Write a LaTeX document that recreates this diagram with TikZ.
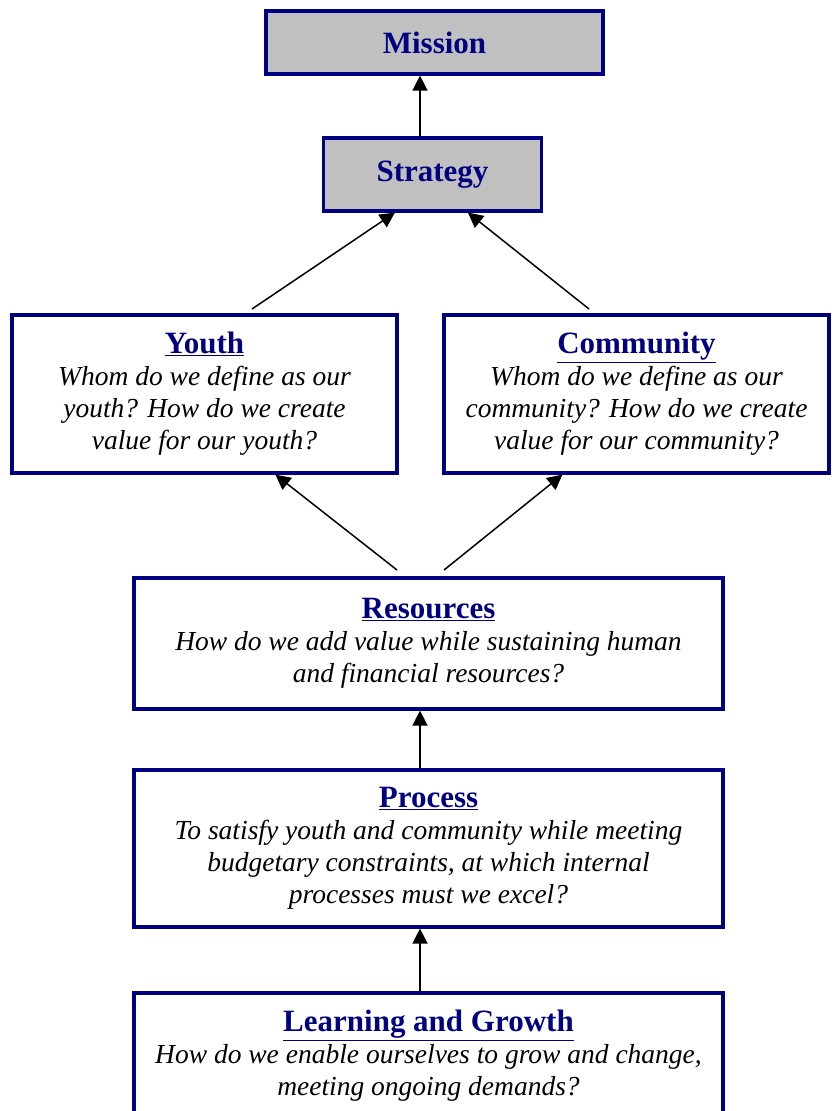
\documentclass[tikz,border=0pt]{standalone}
\usepackage{fontspec}
\setmainfont{Liberation Serif}
\usetikzlibrary{arrows.meta,calc}
\definecolor{navy}{HTML}{000080}
\definecolor{boxgray}{HTML}{C0C0C0}
\newcommand\boxtitle[1]{{\normalfont\fontsize{31}{32}\selectfont\bfseries\color{navy}\underline{#1}}}
\begin{document}
\begin{tikzpicture}[x=1pt,y=-1pt,
  box/.style={draw=navy, line width=3.2pt, rectangle, align=center, inner sep=0pt,
    font=\fontsize{27.5}{32}\selectfont\itshape},
  topbox/.style={draw=navy, line width=3.2pt, rectangle, inner sep=0pt, fill=boxgray,
    text=navy, font=\fontsize{31}{32}\selectfont\bfseries},
  arr/.style={line width=1.5pt, -{Triangle[length=15pt,width=15pt]}}]
\useasboundingbox (0,0) rectangle (838,1111);

\node[topbox, minimum width=337pt, minimum height=63pt] (mission) at (434.5,42.5) {Mission};
\node[topbox, minimum width=218pt, minimum height=73pt] (strategy) at (432.5,174.5) {Strategy};

\node[box, minimum width=385pt, minimum height=158pt] (youth) at (204.5,394)
  {\boxtitle{Youth}\\Whom do we define as our\\youth? How do we create\\value for our youth?};
\node[box, minimum width=385pt, minimum height=158pt] (community) at (636.5,394)
  {\boxtitle{Community}\\Whom do we define as our\\community? How do we create\\value for our community?};

\node[box, minimum width=589pt, minimum height=131pt] (resources) at (428.5,643.5)
  {\boxtitle{Resources}\\How do we add value while sustaining human\\and financial resources?};
\node[box, minimum width=589pt, minimum height=157pt] (process) at (428.5,848.5)
  {\boxtitle{Process}\\To satisfy youth and community while meeting\\budgetary constraints, at which internal\\processes must we excel?};
\node[box, minimum width=589pt, minimum height=126pt] (learning) at (428.5,1056)
  {\boxtitle{Learning and Growth}\\How do we enable ourselves to grow and change,\\meeting ongoing demands?};

\coordinate (ax) at (420,0);
\coordinate (ys) at (252,309);
\coordinate (cs) at (589,309);
\coordinate (ry) at (397,570);
\coordinate (rc) at (444,570);

\draw[arr] (strategy.north -| ax) -- (mission.south -| ax);
\draw[arr] (ys) -- ($(strategy.south west)+(73,0)$);
\draw[arr] (cs) -- ($(strategy.south west)+(146,0)$);
\draw[arr] (ry) -- ($(youth.south west)+(265,0)$);
\draw[arr] (rc) -- ($(community.south west)+(120,0)$);
\draw[arr] (process.north -| ax) -- (resources.south -| ax);
\draw[arr] (learning.north -| ax) -- (process.south -| ax);
\end{tikzpicture}
\end{document}
